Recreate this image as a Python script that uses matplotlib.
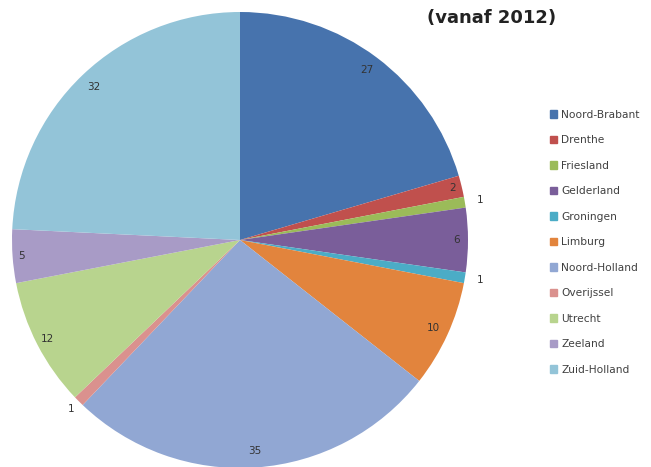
import numpy as np
import matplotlib
matplotlib.use("Agg")
import matplotlib.pyplot as plt

provinces = ["Noord-Brabant", "Drenthe", "Friesland", "Gelderland", "Groningen",
             "Limburg", "Noord-Holland", "Overijssel", "Utrecht", "Zeeland", "Zuid-Holland"]
counts = [27, 2, 1, 6, 1, 10, 35, 1, 12, 5, 32]

colors = ["#4773AD", "#C0504D", "#9BBB59", "#7A5E9A", "#4BACC6", "#E2843D",
          "#91A7D3", "#DA918E", "#B8D48E", "#A89BC6", "#93C4D8"]
# radial position of each value label (in pie radii)
label_r = [0.93, 0.96, 1.07, 0.95, 1.07, 0.93, 0.93, 1.05, 0.95, 0.96, 0.93]

fig = plt.figure(figsize=(6.51, 4.67), dpi=100)
ax = fig.add_axes([12/651, -1/467, 456/651, 456/467])

wedges, _ = ax.pie(counts, colors=colors, startangle=90, counterclock=False,
                   radius=1, wedgeprops=dict(linewidth=0))
ax.set_xlim(-1, 1)
ax.set_ylim(-1, 1)

for w, v, r in zip(wedges, counts, label_r):
    ang = np.deg2rad((w.theta1 + w.theta2) / 2)
    ax.text(r*np.cos(ang), r*np.sin(ang), str(v), ha="center", va="center",
            fontsize=7.5, color="#333333")

fig.text(492/651, 1 - 18/467, "(vanaf 2012)", ha="center", va="center",
         fontsize=13, fontweight="bold", color="#222222")

handles = [plt.Rectangle((0, 0), 1, 1, color=c) for c in colors]
fig.legend(handles, provinces, loc="upper left", bbox_to_anchor=(540/651, 1 - 100/467),
           frameon=False, fontsize=7.7, handlelength=0.7, handleheight=0.7,
           handletextpad=0.4, labelspacing=1.45, labelcolor="#404040")

fig.savefig("out.png", dpi=100)
